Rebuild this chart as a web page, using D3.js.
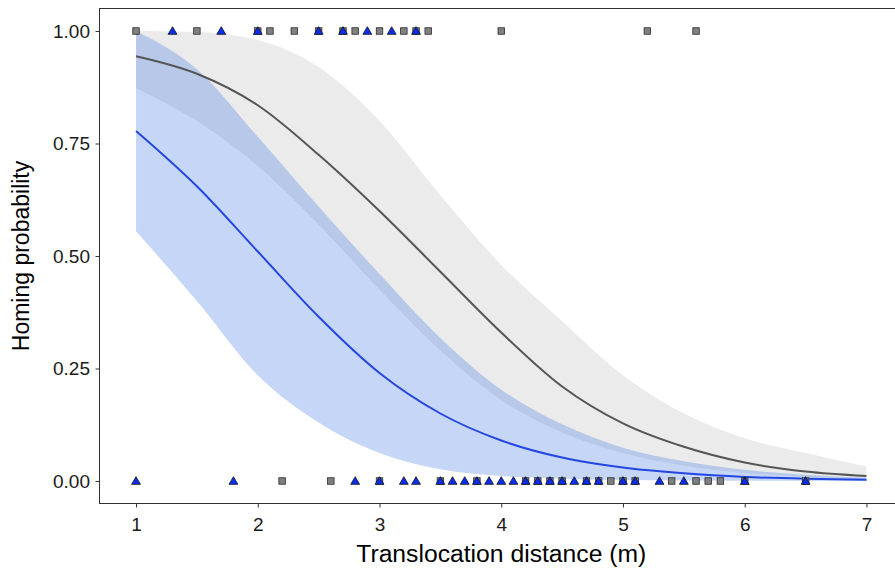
<!DOCTYPE html>
<html>
<head>
<meta charset="utf-8">
<script src="https://cdn.jsdelivr.net/npm/d3@7"></script>
<style>
  html, body { margin: 0; padding: 0; background: #fff; }
  svg { display: block; }
</style>
</head>
<body>
<svg id="chart" width="895" height="572"></svg>
<script>
// ---- data ----
const distance = [1, 1.5, 2, 2.5, 3, 3.5, 4, 4.5, 5, 5.5, 6, 6.5, 7];

const greyMean  = [0.944, 0.905, 0.835, 0.725, 0.600, 0.465, 0.330, 0.210, 0.128, 0.076, 0.041, 0.021, 0.011];
const greyLower = [0.873, 0.800, 0.700, 0.570, 0.425, 0.290, 0.180, 0.108, 0.062, 0.034, 0.018, 0.009, 0.004];
const greyUpper = [1.000, 0.998, 0.980, 0.920, 0.800, 0.635, 0.480, 0.355, 0.235, 0.150, 0.095, 0.062, 0.032];

const blueMean  = [0.778, 0.655, 0.510, 0.365, 0.240, 0.150, 0.090, 0.052, 0.030, 0.017, 0.009, 0.005, 0.003];
const blueLower = [0.555, 0.400, 0.235, 0.130, 0.062, 0.026, 0.011, 0.005, 0.002, 0.001, 0.0005, 0.0002, 0.0001];
const blueUpper = [1.000, 0.915, 0.765, 0.610, 0.460, 0.318, 0.203, 0.126, 0.074, 0.044, 0.025, 0.014, 0.007];

// observed outcomes (1 = homed, 0 = not homed)
const greyHomed    = [1.0, 1.5, 2.0, 2.1, 2.3, 2.5, 2.7, 2.8, 3.0, 3.2, 3.3, 3.4, 4.0, 5.2, 5.6];
const blueHomed    = [1.3, 1.7, 2.0, 2.5, 2.7, 2.9, 3.1, 3.3];
const greyNotHomed = [2.2, 2.6, 3.0, 3.5, 3.8, 4.2, 4.3, 4.4, 4.5, 4.7, 4.8, 4.9, 5.0, 5.1, 5.4, 5.6, 5.7, 5.8, 6.0, 6.5];
const blueNotHomed = [1.0, 1.8, 2.8, 3.0, 3.2, 3.3, 3.5, 3.6, 3.7, 3.8, 3.9, 4.0, 4.1, 4.2, 4.3, 4.4, 4.5, 4.6, 4.7, 4.8, 5.0, 5.1, 5.3, 5.5, 6.0, 6.5];

const xTicks = [1, 2, 3, 4, 5, 6, 7];
const yTicks = [0, 0.25, 0.5, 0.75, 1];
const xTitle = "Translocation distance (m)";
const yTitle = "Homing probability";

// ---- drawing ----
const svg = d3.select("#chart");
const x = d3.scaleLinear().domain([0.7, 7.3]).range([99.5, 903]);
const y = d3.scaleLinear().domain([-0.05, 1.05]).range([503.5, 8.5]);

const font = "'Liberation Sans', Arial, Helvetica, sans-serif";

const band = (lo, hi) => d3.area()
  .x((d, i) => x(distance[i]))
  .y0((d, i) => y(lo[i]))
  .y1((d, i) => y(hi[i]))
  .curve(d3.curveMonotoneX)(distance);
const line = (vals) => d3.line()
  .x((d, i) => x(distance[i]))
  .y((d, i) => y(vals[i]))
  .curve(d3.curveMonotoneX)(distance);

const plot = svg.append("g");
plot.append("path").attr("d", band(greyLower, greyUpper)).attr("fill", "#ebebeb");
plot.append("path").attr("d", band(blueLower, blueUpper)).attr("fill", "rgb(80,130,232)").attr("fill-opacity", 0.33);
plot.append("path").attr("d", line(greyMean)).attr("fill", "none").attr("stroke", "#555555").attr("stroke-width", 2);
plot.append("path").attr("d", line(blueMean)).attr("fill", "none").attr("stroke", "#2447e0").attr("stroke-width", 2);

// markers
const sq = 6.5;
function squares(vals, yv) {
  plot.selectAll(null).data(vals).enter().append("rect")
    .attr("x", d => x(d) - sq / 2).attr("y", y(yv) - sq / 2)
    .attr("width", sq).attr("height", sq)
    .attr("fill", "#808080").attr("stroke", "#2a2a2a").attr("stroke-width", 0.8);
}
const tri = d3.symbol().type(d3.symbolTriangle).size(34);
function triangles(vals, yv) {
  plot.selectAll(null).data(vals).enter().append("path")
    .attr("d", tri)
    .attr("transform", d => `translate(${x(d)},${y(yv) + 0.8})`)
    .attr("fill", "#0b2df0").attr("stroke", "#111").attr("stroke-width", 0.8);
}
squares(greyHomed, 1);
squares(greyNotHomed, 0);
triangles(blueHomed, 1);
triangles(blueNotHomed, 0);

// frame
const frame = svg.append("g").attr("fill", "none").attr("stroke", "#333").attr("stroke-width", 1);
frame.append("rect").attr("x", 99.5).attr("y", 8.5).attr("width", 900).attr("height", 495);

// axes
const xAxis = d3.axisBottom(x).tickValues(xTicks).tickSize(4).tickPadding(10).tickFormat(d3.format("d"));
const yAxis = d3.axisLeft(y).tickValues(yTicks).tickSize(4).tickPadding(5.5).tickFormat(d3.format(".2f"));
const gx = svg.append("g").attr("transform", `translate(0,${503.5})`).call(xAxis);
const gy = svg.append("g").attr("transform", `translate(${99.5},0)`).call(yAxis);
[gx, gy].forEach(g => {
  g.select(".domain").remove();
  g.selectAll(".tick line").attr("stroke", "#333");
  g.selectAll(".tick text").attr("fill", "#1a1a1a").style("font-family", font).style("font-size", "19px");
});

svg.append("text").attr("x", x(4)).attr("y", 562)
  .attr("text-anchor", "middle").style("font-family", font).style("font-size", "23px").attr("fill", "#000")
  .attr("textLength", 290).attr("lengthAdjust", "spacingAndGlyphs")
  .text(xTitle);
svg.append("text").attr("transform", `translate(29,${y(0.5)}) rotate(-90)`)
  .attr("text-anchor", "middle").style("font-family", font).style("font-size", "23px").attr("fill", "#000")
  .text(yTitle);
</script>
</body>
</html>
